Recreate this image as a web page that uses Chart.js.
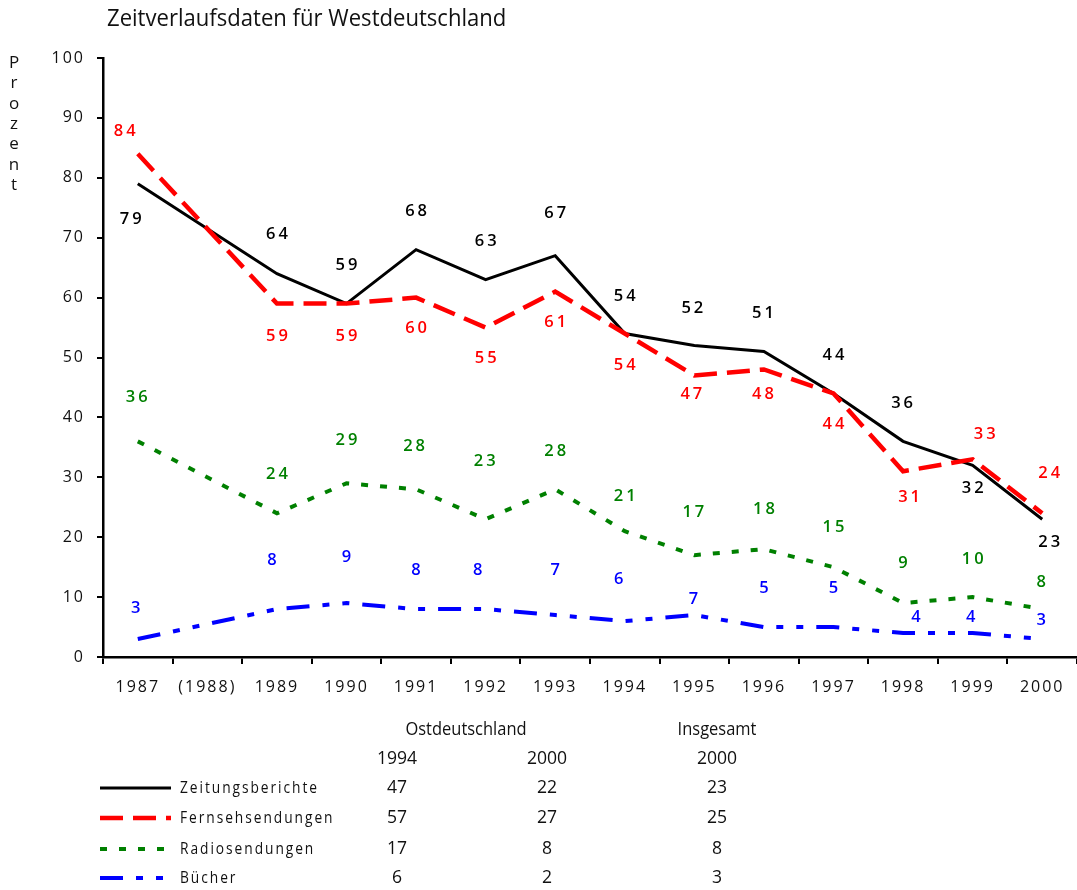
<!DOCTYPE html>
<html>
<head>
<meta charset="utf-8">
<script src="https://cdn.jsdelivr.net/npm/chart.js@4/dist/chart.umd.min.js"></script>
<style>
html,body{margin:0;padding:0;background:#fff;}
#c{display:block;}
</style>
</head>
<body>
<canvas id="c" width="1077" height="890"></canvas>
<script>
// ---- data ----
const categories = ['1987','(1988)','1989','1990','1991','1992','1993','1994','1995','1996','1997','1998','1999','2000'];
const zeitung  = [79, null, 64, 59, 68, 63, 67, 54, 52, 51, 44, 36, 32, 23];
const fernseh  = [84, null, 59, 59, 60, 55, 61, 54, 47, 48, 44, 31, 33, 24];
const radio    = [36, null, 24, 29, 28, 23, 28, 21, 17, 18, 15, 9, 10, 8];
const buecher  = [3, null, 8, 9, 8, 8, 7, 6, 7, 5, 5, 4, 4, 3];
const seriesNames = ['Zeitungsberichte', 'Fernsehsendungen', 'Radiosendungen', 'Bücher'];
const ost1994 = [47, 57, 17, 6];
const ost2000 = [22, 27, 8, 2];
const gesamt2000 = [23, 25, 8, 3];
const titleText = 'Zeitverlaufsdaten für Westdeutschland';
const yTitle = 'Prozent';

// ---- styling (label offsets in pixels from each point) ----
const FONT = '"Open Sans", "Liberation Sans", sans-serif';
const colors = ['#000000', '#ff0000', '#008000', '#0000ff'];
const dashes = [[], [23, 10], [7, 12], [23, 13, 7, 13, 7, 13]];
const widths = [3, 4.5, 4, 4];
const labelOffsets = [
  [[-7,36],null,[0,-39],[0,-38],[0,-38],[0,-38],[0,-42],[0,-37],[-2,-37],[-1,-38],[0,-38],[-1,-38],[0,23],[7,23]],
  [[-13,-23],null,[0,33],[0,33],[0,31],[0,31],[0,31],[0,32],[-3,19],[-1,25],[0,31],[6,26],[12,-25],[7,-40]],
  [[-1,-44],null,[0,-39],[0,-43],[-2,-43],[-1,-58],[0,-38],[0,-35],[-1,-43],[0,-40],[0,-40],[0,-40],[0,-38],[-1,-27]],
  [[-2,-31],null,[-5,-49],[0,-46],[0,-39],[-8,-39],[0,-45],[-6,-42],[-1,-16],[0,-39],[0,-39],[13,-16],[-2,-16],[-1,-19]]
];
const seriesData = [zeitung, fernseh, radio, buecher];

// draw text horizontally condensed by factor sx
function drawText(ctx, text, x, y, align, sx) {
  ctx.save();
  ctx.translate(x, y);
  ctx.scale(sx, 1);
  ctx.textAlign = align;
  ctx.fillText(text, 0, 0);
  ctx.restore();
}

const spacingPlugin = {
  id: 'spacing',
  beforeDraw(chart) { chart.ctx.letterSpacing = '2px'; },
  beforeDatasetsDraw(chart) { chart.ctx.letterSpacing = '0px'; }
};

const labelPlugin = {
  id: 'labels',
  afterDatasetsDraw(chart) {
    const ctx = chart.ctx;
    ctx.save();
    ctx.letterSpacing = '3px';
    ctx.font = '600 16.5px ' + FONT;
    ctx.textAlign = 'center';
    ctx.textBaseline = 'middle';
    chart.data.datasets.forEach((ds, di) => {
      const meta = chart.getDatasetMeta(di);
      ds.data.forEach((v, i) => {
        if (v === null) return;
        const p = meta.data[i];
        const off = labelOffsets[di][i];
        ctx.fillStyle = colors[di];
        ctx.fillText(String(v), p.x + off[0] + 1.5, p.y + off[1]);
      });
    });
    ctx.restore();
  },
  afterDraw(chart) {
    const ctx = chart.ctx;
    ctx.save();
    ctx.letterSpacing = '0px';
    ctx.textBaseline = 'middle';
    // title
    ctx.fillStyle = '#111';
    ctx.font = '24px ' + FONT;
    drawText(ctx, titleText, 107, 19, 'left', 0.92);
    // y title, stacked letters
    ctx.font = '17px ' + FONT;
    [...yTitle].forEach((ch, i) => drawText(ctx, ch, 14, 63 + i * 20.4, 'center', 1));
    // table headers
    ctx.font = '18.5px ' + FONT;
    drawText(ctx, 'Ostdeutschland', 466, 730, 'center', 0.89);
    drawText(ctx, 'Insgesamt', 717, 730, 'center', 0.89);
    drawText(ctx, '1994', 397, 759, 'center', 0.95);
    drawText(ctx, '2000', 547, 759, 'center', 0.95);
    drawText(ctx, '2000', 717, 759, 'center', 0.95);
    const rows = [788, 818, 849, 878];
    seriesNames.forEach((name, i) => {
      const y = rows[i];
      ctx.save();
      ctx.strokeStyle = colors[i];
      ctx.lineWidth = widths[i];
      ctx.setLineDash(dashes[i]);
      ctx.beginPath();
      ctx.moveTo(100, y);
      ctx.lineTo(171, y);
      ctx.stroke();
      ctx.restore();
      ctx.fillStyle = '#111';
      ctx.font = '17px ' + FONT;
      ctx.letterSpacing = '2.4px';
      drawText(ctx, name, 180, y, 'left', 0.81);
      ctx.letterSpacing = '0px';
      ctx.font = '18.5px ' + FONT;
      drawText(ctx, String(ost1994[i]), 397, y, 'center', 0.95);
      drawText(ctx, String(ost2000[i]), 547, y, 'center', 0.95);
      drawText(ctx, String(gesamt2000[i]), 717, y, 'center', 0.95);
    });
    ctx.restore();
  }
};

const datasets = seriesData.map((d, i) => ({
  label: seriesNames[i],
  data: d,
  borderColor: colors[i],
  backgroundColor: colors[i],
  borderWidth: widths[i],
  borderDash: dashes[i],
  pointRadius: 0,
  tension: 0,
  spanGaps: true,
  fill: false,
  order: [1, 0, 2, 3][i]
}));

new Chart(document.getElementById('c'), {
  type: 'line',
  data: { labels: categories, datasets },
  options: {
    responsive: false,
    animation: false,
    devicePixelRatio: 1,
    layout: { padding: { top: 58, left: 0, right: 0, bottom: 193 } },
    plugins: { legend: { display: false }, tooltip: { enabled: false }, title: { display: false } },
    scales: {
      x: {
        type: 'category',
        offset: true,
        grid: { offset: true, drawOnChartArea: false, tickLength: 7, color: '#000', lineWidth: 2 },
        border: { color: '#000', width: 2.5 },
        ticks: { color: '#111', font: { size: 16, family: FONT }, padding: 14, maxRotation: 0, autoSkip: false },
        afterFit(s) { s.height = 40; }
      },
      y: {
        min: 0, max: 100,
        grid: { drawOnChartArea: false, tickLength: 6, color: '#000', lineWidth: 2 },
        border: { color: '#000', width: 2.5 },
        ticks: { stepSize: 10, color: '#111', font: { size: 16, family: FONT }, padding: 12 },
        afterFit(s) { s.width = 103; }
      }
    }
  },
  plugins: [spacingPlugin, labelPlugin]
});
</script>
</body>
</html>
